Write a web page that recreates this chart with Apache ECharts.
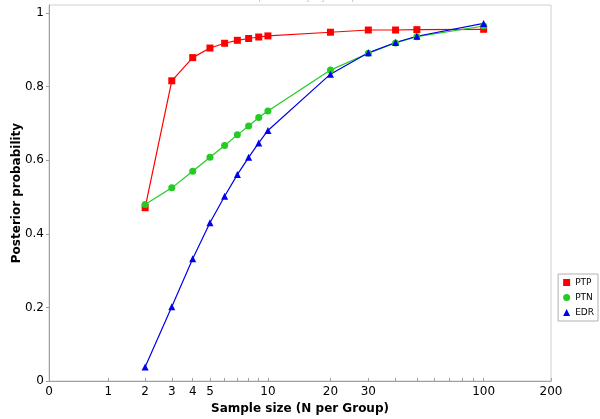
<!DOCTYPE html>
<html>
<head>
<meta charset="utf-8">
<script src="https://cdn.jsdelivr.net/npm/echarts@6/dist/echarts.min.js"></script>
<style>html,body{margin:0;padding:0;background:#fff}#c{width:600px;height:419px}</style>
</head>
<body>
<div id="c"></div>
<script>
var sampleSizes = [2, 3, 4, 5, 6, 7, 8, 9, 10, 20, 30, 40, 50, 100];
var ptp = [0.471, 0.816, 0.879, 0.905, 0.918, 0.926, 0.931, 0.935, 0.938, 0.948, 0.954, 0.954, 0.955, 0.956];
var ptn = [0.480, 0.525, 0.570, 0.608, 0.640, 0.669, 0.693, 0.716, 0.734, 0.845, 0.891, 0.919, 0.936, 0.965];
var edr = [0.038, 0.202, 0.332, 0.430, 0.502, 0.561, 0.608, 0.647, 0.681, 0.834, 0.892, 0.920, 0.937, 0.972];
var xTickLabels = [0, 1, 2, 3, 4, 5, 10, 20, 30, 100, 200];
var xMinorTicks = [6, 7, 8, 9, 40, 50, 60, 70, 80, 90];
var yTickLabels = [0, 0.2, 0.4, 0.6, 0.8, 1];

var OFFSET = 1.2;
function tr(v) { return Math.log10(v + OFFSET); }
function pairs(ys) { return sampleSizes.map(function (s, i) { return [tr(s), ys[i]]; }); }

var chart = echarts.init(document.getElementById('c'), null, {renderer: 'canvas'});
var font = 'DejaVu Sans';
chart.setOption({
  animation: false,
  title: {
    text: 'Posterior probability by sample size',
    left: 'center', top: -13,
    textStyle: {fontFamily: font, fontSize: 10, fontWeight: 'normal', color: '#c8c8c8'}
  },
  grid: {left: 49, right: 49, top: 5, bottom: 38, show: true, borderColor: '#cfcfcf', borderWidth: 1,
    containLabel: false, outerBoundsMode: 'none'},
  legend: {
    orient: 'vertical', right: 2, top: 274,
    itemWidth: 7, itemHeight: 7, itemGap: 6,
    padding: [4, 4, 4, 5],
    borderColor: '#b0b0b0', borderWidth: 1,
    textStyle: {fontFamily: font, fontSize: 9, color: '#000'},
    data: [{name: 'PTP', icon: 'rect'}, {name: 'PTN', icon: 'circle'}, {name: 'EDR', icon: 'triangle'}]
  },
  xAxis: {
    type: 'value', min: tr(0), max: tr(200),
    name: 'Sample size (N per Group)', nameLocation: 'middle', nameGap: 22, nameMoveOverlap: false,
    nameTextStyle: {fontFamily: font, fontSize: 12, fontWeight: 'bold', color: '#000'},
    axisLine: {lineStyle: {color: '#a0a0a0'}},
    axisTick: {inside: true, length: 3, lineStyle: {color: '#a0a0a0'},
      customValues: xTickLabels.concat(xMinorTicks).map(tr)},
    axisLabel: {
      customValues: xTickLabels.map(tr), margin: 5,
      fontFamily: font, fontSize: 12, color: '#000',
      formatter: function (v) {
        for (var i = 0; i < xTickLabels.length; i++) {
          if (Math.abs(tr(xTickLabels[i]) - v) < 1e-6) return String(xTickLabels[i]);
        }
        return '';
      }
    },
    splitLine: {show: false}
  },
  yAxis: {
    type: 'value', min: 0, max: 1.022,
    name: 'Posterior probability', nameLocation: 'middle', nameGap: 26, nameRotate: 90, nameMoveOverlap: false,
    nameTextStyle: {fontFamily: font, fontSize: 12, fontWeight: 'bold', color: '#000'},
    axisLine: {show: true, lineStyle: {color: '#a0a0a0'}},
    axisTick: {show: true, length: 3, lineStyle: {color: '#a0a0a0'}, customValues: yTickLabels},
    axisLabel: {customValues: yTickLabels, margin: 5, fontFamily: font, fontSize: 12, color: '#000',
      formatter: function (v) { return String(Math.round(v * 10) / 10); }},
    splitLine: {show: false}
  },
  series: [
    {name: 'PTP', type: 'line', data: pairs(ptp), symbol: 'rect', symbolSize: 7,
      itemStyle: {color: '#ff0000'}, lineStyle: {color: '#ff0000', width: 1.2}},
    {name: 'PTN', type: 'line', data: pairs(ptn), symbol: 'circle', symbolSize: 7,
      itemStyle: {color: '#22cc22'}, lineStyle: {color: '#22cc22', width: 1.2}},
    {name: 'EDR', type: 'line', data: pairs(edr), symbol: 'triangle', symbolSize: 7,
      itemStyle: {color: '#0000ee'}, lineStyle: {color: '#0000ee', width: 1.2}}
  ]
});
</script>
</body>
</html>
